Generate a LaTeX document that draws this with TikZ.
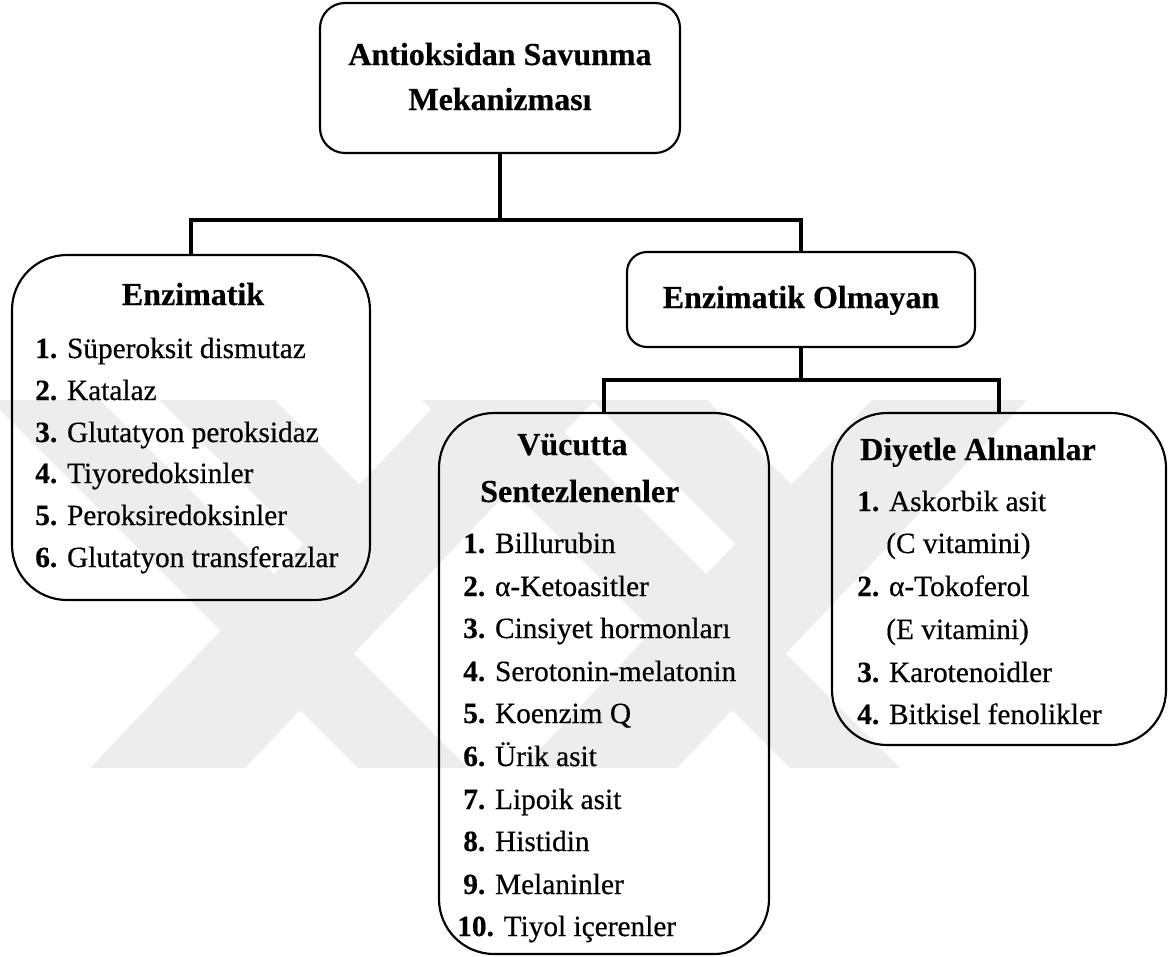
\documentclass[tikz,border=0pt]{standalone}
\usepackage{fontspec}
\setmainfont{Liberation Serif}[UprightFeatures={FakeBold=0.5},BoldFeatures={FakeBold=0.4}]
\definecolor{wm}{HTML}{EDEDED}
\newcommand\bodyfnt{\fontsize{22}{26}\selectfont}
\newcommand\titlefnt{\fontsize{24}{28}\selectfont\bfseries}
\begin{document}
\begin{tikzpicture}[x=0.75pt,y=-0.75pt,
  box/.style={draw, line width=1.6pt, rounded corners=#1, inner sep=0pt},
  conn/.style={line width=2.4pt},
  ttl/.style={font=\titlefnt, anchor=base, inner sep=0pt},
  itm/.style={font=\bodyfnt, anchor=base west, inner sep=0pt}]
\useasboundingbox (0,0) rectangle (1168,957);
% faint background watermark
\begin{scope}
\clip (0,400) rectangle (1168,768);
\fill[wm] (-10,400) -- (100,400) -- (468,768) -- (358,768) -- cycle;
\fill[wm] (160,400) -- (275,400) -- (425,550) -- (310,550) -- cycle;
\fill[wm] (90,768) -- (245,768) -- (595,400) -- (440,400) -- cycle;
\fill[wm] (422,400) -- (532,400) -- (900,768) -- (790,768) -- cycle;
\fill[wm] (592,400) -- (707,400) -- (857,550) -- (742,550) -- cycle;
\fill[wm] (522,768) -- (677,768) -- (1027,400) -- (872,400) -- cycle;
\end{scope}
% boxes
\node[box=18.75pt, minimum width=270pt, minimum height=112.5pt] (top) at (500,78) {};
\node[box=41.25pt, minimum width=268.5pt, minimum height=258.75pt] (enz) at (191,427.5) {};
\node[box=15pt, minimum width=261pt, minimum height=71.25pt] (olm) at (801,299.5) {};
\node[box=41.25pt, minimum width=247.5pt, minimum height=405.75pt] (vuc) at (604,683.5) {};
\node[box=41.25pt, minimum width=250.5pt, minimum height=249pt] (diy) at (999,579) {};
% connectors
\coordinate (j1) at (500,220);
\coordinate (j2) at (801,380);
\draw[conn] (top.south) -- (j1);
\draw[conn] (enz.north) |- (j1) -| (olm.north);
\draw[conn] (olm.south) -- (j2);
\draw[conn] (vuc.north) |- (j2) -| (diy.north);
% top
\node[ttl] (topa) at (500,65) {Antioksidan Savunma};
\node[ttl] (topb) at (500,110) {Mekanizması};
% enzimatik
\node[ttl] (enzt) at (193,305) {Enzimatik};
\node[itm] (e1) at (35,358) {\textbf{1.} Süperoksit dismutaz};
\node[itm] (e2) at (35,400) {\textbf{2.} Katalaz};
\node[itm] (e3) at (35,442) {\textbf{3.} Glutatyon peroksidaz};
\node[itm] (e4) at (35,483) {\textbf{4.} Tiyoredoksinler};
\node[itm] (e5) at (35,525) {\textbf{5.} Peroksiredoksinler};
\node[itm] (e6) at (35,567) {\textbf{6.} Glutatyon transferazlar};
% enzimatik olmayan
\node[ttl] (olmt) at (801,308) {Enzimatik Olmayan};
% vucutta
\node[ttl, anchor=base west] (vt1) at (517,455) {Vücutta};
\node[ttl, anchor=base west] (vt2) at (480,502) {Sentezlenenler};
\node[itm] (v1) at (463,553) {\textbf{1.} Billurubin};
\node[itm] (v2) at (463,596) {\textbf{2.} α-Ketoasitler};
\node[itm] (v3) at (463,638) {\textbf{3.} Cinsiyet hormonları};
\node[itm] (v4) at (463,681) {\textbf{4.} Serotonin-melatonin};
\node[itm] (v5) at (463,723) {\textbf{5.} Koenzim Q};
\node[itm] (v6) at (463,766) {\textbf{6.} Ürik asit};
\node[itm] (v7) at (463,809) {\textbf{7.} Lipoik asit};
\node[itm] (v8) at (463,851) {\textbf{8.} Histidin};
\node[itm] (v9) at (463,894) {\textbf{9.} Melaninler};
\node[itm] (v10) at (457,936) {\textbf{10.} Tiyol içerenler};
% diyetle
\node[ttl] (diyt) at (978,460) {Diyetle Alınanlar};
\node[itm] (d1) at (857,511) {\textbf{1.} Askorbik asit};
\node[itm] (d1b) at (886,553) {(C vitamini)};
\node[itm] (d2) at (857,596) {\textbf{2.} α-Tokoferol};
\node[itm] (d2b) at (886,639) {(E vitamini)};
\node[itm] (d3) at (857,682) {\textbf{3.} Karotenoidler};
\node[itm] (d4) at (857,724) {\textbf{4.} Bitkisel fenolikler};
\end{tikzpicture}
\end{document}
